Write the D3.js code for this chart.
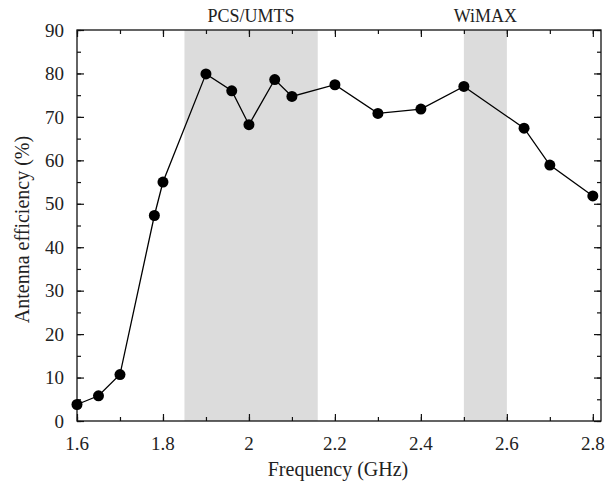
<!DOCTYPE html>
<html>
<head>
<meta charset="utf-8">
<script src="https://cdn.jsdelivr.net/npm/d3@7"></script>
<style>
  body { margin: 0; background: #fff; }
  text { font-family: "Liberation Serif", "DejaVu Serif", serif; fill: #222; }
</style>
</head>
<body>
<script>
// data
const frequency = [1.6, 1.65, 1.7, 1.78, 1.8, 1.9, 1.96, 2.0, 2.06, 2.1, 2.2, 2.3, 2.4, 2.5, 2.64, 2.7, 2.8]
const efficiency = [3.8, 5.8, 10.7, 47.3, 55.0, 79.9, 76.0, 68.2, 78.6, 74.7, 77.4, 70.8, 71.8, 77.0, 67.4, 58.9, 51.8]
const bandNames = ['PCS/UMTS', 'WiMAX']
const bandStart = [1.85, 2.5]
const bandEnd = [2.16, 2.6]
const xTicks = [1.6, 1.8, 2.0, 2.2, 2.4, 2.6, 2.8]
const yTicks = [0, 10, 20, 30, 40, 50, 60, 70, 80, 90]

const width = 606
const height = 485
const margin = { top: 30, right: 5, bottom: 64, left: 77 }

const svg = d3.select('body').append('svg')
  .attr('width', width)
  .attr('height', height)
  .attr('viewBox', [0, 0, width, height])

const x = d3.scaleLinear().domain([1.6, 2.819]).range([margin.left, width - margin.right])
const y = d3.scaleLinear().domain([0, 90]).range([height - margin.bottom, margin.top])

// shaded bands
svg.append('g')
  .selectAll('rect')
  .data(bandNames)
  .join('rect')
    .attr('x', (d, i) => x(bandStart[i]))
    .attr('width', (d, i) => x(bandEnd[i]) - x(bandStart[i]))
    .attr('y', y(90))
    .attr('height', y(0) - y(90))
    .attr('fill', '#dcdcdc')

svg.append('g')
  .selectAll('text')
  .data(bandNames)
  .join('text')
    .attr('x', (d, i) => x((bandStart[i] + bandEnd[i]) / 2))
    .attr('y', 22)
    .attr('text-anchor', 'middle')
    .attr('font-size', 18)
    .text(d => d)

const xMinor = d3.range(1.6, 2.81, 0.1)
const yMinor = d3.range(0, 91, 5)

// ticks pointing inward on all four sides
const tickStyle = (g) => {
  g.select('.domain').remove()
  g.selectAll('line').attr('stroke', '#111').attr('stroke-width', 1.2)
}

svg.append('g')
  .attr('transform', `translate(0,${y(0)})`)
  .call(d3.axisTop(x).tickValues(xMinor).tickSize(4).tickFormat(''))
  .call(tickStyle)
svg.append('g')
  .attr('transform', `translate(0,${y(0)})`)
  .call(d3.axisTop(x).tickValues(xTicks).tickSize(7).tickFormat(''))
  .call(tickStyle)
svg.append('g')
  .attr('transform', `translate(0,${y(90)})`)
  .call(d3.axisBottom(x).tickValues(xMinor).tickSize(4).tickFormat(''))
  .call(tickStyle)
svg.append('g')
  .attr('transform', `translate(0,${y(90)})`)
  .call(d3.axisBottom(x).tickValues(xTicks).tickSize(7).tickFormat(''))
  .call(tickStyle)

svg.append('g')
  .attr('transform', `translate(${x.range()[0]},0)`)
  .call(d3.axisRight(y).tickValues(yMinor).tickSize(4).tickFormat(''))
  .call(tickStyle)
svg.append('g')
  .attr('transform', `translate(${x.range()[0]},0)`)
  .call(d3.axisRight(y).tickValues(yTicks).tickSize(7).tickFormat(''))
  .call(tickStyle)
svg.append('g')
  .attr('transform', `translate(${x.range()[1]},0)`)
  .call(d3.axisLeft(y).tickValues(yMinor).tickSize(4).tickFormat(''))
  .call(tickStyle)
svg.append('g')
  .attr('transform', `translate(${x.range()[1]},0)`)
  .call(d3.axisLeft(y).tickValues(yTicks).tickSize(7).tickFormat(''))
  .call(tickStyle)

// tick labels
svg.append('g')
  .selectAll('text')
  .data(xTicks)
  .join('text')
    .attr('x', d => x(d))
    .attr('y', y(0) + 29)
    .attr('text-anchor', 'middle')
    .attr('font-size', 19)
    .text(d => d3.format('')(d))

svg.append('g')
  .selectAll('text')
  .data(yTicks)
  .join('text')
    .attr('x', x.range()[0] - 13)
    .attr('y', d => y(d))
    .attr('dy', '0.35em')
    .attr('text-anchor', 'end')
    .attr('font-size', 19)
    .text(d => d)

// frame
svg.append('rect')
  .attr('x', x.range()[0])
  .attr('y', y(90))
  .attr('width', x.range()[1] - x.range()[0])
  .attr('height', y(0) - y(90))
  .attr('fill', 'none')
  .attr('stroke', '#111')
  .attr('stroke-width', 1.3)

// axis titles
svg.append('text')
  .attr('x', (x.range()[0] + x.range()[1]) / 2 - 1)
  .attr('y', 476)
  .attr('text-anchor', 'middle')
  .attr('font-size', 20)
  .text('Frequency (GHz)')

svg.append('text')
  .attr('transform', `translate(29,${(y(0) + y(90)) / 2 + 4}) rotate(-90)`)
  .attr('text-anchor', 'middle')
  .attr('font-size', 20)
  .text('Antenna efficiency (%)')

// series
const line = d3.line().x((d, i) => x(frequency[i])).y(d => y(d))

svg.append('path')
  .attr('d', line(efficiency))
  .attr('fill', 'none')
  .attr('stroke', '#000')
  .attr('stroke-width', 1.3)

svg.append('g')
  .selectAll('circle')
  .data(efficiency)
  .join('circle')
    .attr('cx', (d, i) => x(frequency[i]))
    .attr('cy', d => y(d))
    .attr('r', 5.5)
    .attr('fill', '#000')
</script>
</body>
</html>
